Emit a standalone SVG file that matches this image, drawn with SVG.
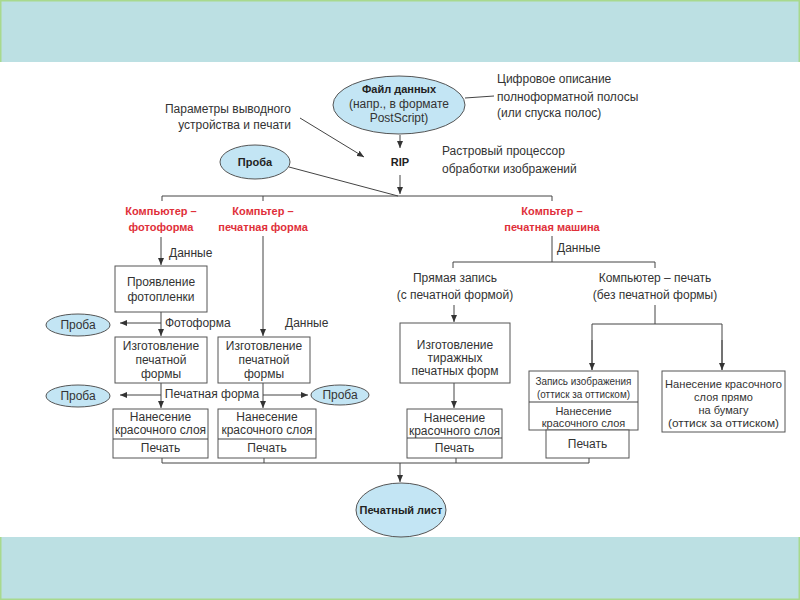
<svg xmlns="http://www.w3.org/2000/svg" width="800" height="600" viewBox="0 0 800 600">
<style>
.t{font-family:"Liberation Sans",Arial,sans-serif;font-size:12px;fill:#333}
.s{font-size:11px}
.c{text-anchor:middle}
.b{font-weight:bold;font-size:11px;fill:#222}
.r{font-weight:bold;font-size:11px;fill:#e0303a;text-anchor:middle}
.box{fill:#fff;stroke:#555;stroke-width:1}
.ell{fill:#c3e5f4;stroke:#555;stroke-width:1}
.ln{fill:none;stroke:#444;stroke-width:1}
.ar{fill:none;stroke:#444;stroke-width:1;marker-end:url(#ah)}
</style>
<defs>
<marker id="ah" markerUnits="userSpaceOnUse" markerWidth="8" markerHeight="6" refX="7" refY="3" orient="auto">
<path d="M0,0 L7,3 L0,6 z" fill="#333"/>
</marker>
</defs>
<rect x="0" y="0" width="800" height="600" fill="#fff"/>
<g id="bands">
<rect x="0" y="0" width="800" height="62" fill="#bce0e3"/>
<path d="M0.75,62 V0.75 H799.25 V62" fill="none" stroke="#a8d98e" stroke-width="1.5"/>
<rect x="0" y="537" width="800" height="63" fill="#bce0e3"/>
<path d="M0.75,537 V599.25 H799.25 V537" fill="none" stroke="#a8d98e" stroke-width="1.5"/>
</g>

<g id="connectors">
<line class="ln" x1="465" y1="98" x2="494" y2="96"/>
<line class="ar" x1="400" y1="135" x2="400" y2="148"/>
<line class="ar" x1="300" y1="118" x2="364" y2="157"/>
<line class="ar" x1="400" y1="175" x2="400" y2="194"/>
<line class="ln" x1="289" y1="167" x2="398" y2="196"/>
<path class="ln" d="M162,201 V196 H552 V201"/>
<line class="ln" x1="263" y1="196" x2="263" y2="201"/>
<line class="ar" x1="161" y1="237" x2="161" y2="265"/>
<line class="ar" x1="161" y1="312" x2="161" y2="336"/>
<line class="ar" x1="161" y1="323" x2="120" y2="323"/>
<line class="ar" x1="263" y1="236" x2="263" y2="336"/>
<line class="ar" x1="161" y1="383" x2="161" y2="408"/>
<line class="ar" x1="263" y1="383" x2="263" y2="408"/>
<line class="ar" x1="161" y1="395" x2="120" y2="395"/>
<line class="ar" x1="263" y1="395" x2="308" y2="395"/>
<line class="ln" x1="552" y1="236" x2="552" y2="262"/>
<path class="ln" d="M453,268 V262 H655 V268"/>
<line class="ar" x1="454" y1="305" x2="454" y2="322"/>
<line class="ar" x1="454" y1="383" x2="454" y2="408"/>
<line class="ln" x1="655" y1="305" x2="655" y2="324"/>
<path class="ln" d="M592,370 V324 H722 V370"/>
<line class="ar" x1="592" y1="340" x2="592" y2="370"/>
<line class="ar" x1="722" y1="340" x2="722" y2="370"/>
<path class="ln" d="M162,458 V463 H589 V458"/>
<line class="ln" x1="264" y1="458" x2="264" y2="463"/>
<line class="ln" x1="456" y1="458" x2="456" y2="463"/>
<line class="ar" x1="400" y1="463" x2="400" y2="482"/>
</g>

<g id="file">
<ellipse class="ell" cx="399" cy="105" rx="66" ry="29"/>
<text class="t b c" x="399" y="93">Файл данных</text>
<text class="t c" x="399" y="108">(напр., в формате</text>
<text class="t c" x="399" y="122">PostScript)</text>
</g>
<g id="file-note">
<text class="t" x="497" y="83">Цифровое описание</text>
<text class="t" x="497" y="101">полноформатной полосы</text>
<text class="t" x="497" y="117">(или спуска полос)</text>
</g>
<g id="params">
<text class="t" x="291" y="113" text-anchor="end">Параметры выводного</text>
<text class="t" x="291" y="129" text-anchor="end">устройства и печати</text>
</g>
<g id="rip">
<text class="t b c" x="400" y="166">RIP</text>
</g>
<g id="rip-note">
<text class="t" x="442" y="155">Растровый процессор</text>
<text class="t" x="442" y="173">обработки изображений</text>
</g>
<g id="proba-top">
<ellipse class="ell" cx="255" cy="162" rx="35" ry="17"/>
<text class="t b c" x="255" y="166">Проба</text>
</g>

<g id="lbl-ctf">
<text class="t r" x="161" y="215">Компьютер –</text>
<text class="t r" x="161" y="231">фотоформа</text>
</g>
<g id="lbl-ctp">
<text class="t r" x="263" y="215">Компьтер –</text>
<text class="t r" x="263" y="231">печатная форма</text>
</g>
<g id="lbl-ctpress">
<text class="t r" x="552" y="215">Компьтер –</text>
<text class="t r" x="552" y="231">печатная машина</text>
</g>

<g id="labels">
<text class="t" x="169" y="257">Данные</text>
<text class="t" x="165" y="327">Фотоформа</text>
<text class="t" x="285" y="327">Данные</text>
<text class="t c" x="212" y="398">Печатная форма</text>
<text class="t" x="557" y="252">Данные</text>
</g>

<g id="film">
<rect class="box" x="115" y="266" width="92" height="46"/>
<text class="t c" x="161" y="286">Проявление</text>
<text class="t c" x="161" y="301">фотопленки</text>
</g>
<g id="proba-l1">
<ellipse class="ell" cx="78" cy="325" rx="32" ry="11"/>
<text class="t c" x="78" y="329">Проба</text>
</g>
<g id="plate-l">
<rect class="box" x="115" y="337" width="92" height="46"/>
<text class="t c" x="161" y="350">Изготовление</text>
<text class="t c" x="161" y="364">печатной</text>
<text class="t c" x="161" y="378">формы</text>
</g>
<g id="plate-r">
<rect class="box" x="218" y="337" width="92" height="46"/>
<text class="t c" x="264" y="350">Изготовление</text>
<text class="t c" x="264" y="364">печатной</text>
<text class="t c" x="264" y="378">формы</text>
</g>
<g id="proba-l2">
<ellipse class="ell" cx="78" cy="396" rx="32" ry="11"/>
<text class="t c" x="78" y="400">Проба</text>
</g>
<g id="proba-r">
<ellipse class="ell" cx="340" cy="395" rx="29" ry="10"/>
<text class="t c" x="340" y="399">Проба</text>
</g>
<g id="ink-l">
<rect class="box" x="113" y="409" width="95" height="49"/>
<line class="ln" x1="113" y1="439" x2="208" y2="439"/>
<text class="t c" x="160.5" y="421">Нанесение</text>
<text class="t c" x="160.5" y="434">красочного слоя</text>
<text class="t c" x="160.5" y="452">Печать</text>
</g>
<g id="ink-r">
<rect class="box" x="218" y="409" width="98" height="49"/>
<line class="ln" x1="218" y1="439" x2="316" y2="439"/>
<text class="t c" x="267" y="421">Нанесение</text>
<text class="t c" x="267" y="434">красочного слоя</text>
<text class="t c" x="267" y="452">Печать</text>
</g>

<g id="direct">
<text class="t c" x="455" y="282">Прямая запись</text>
<text class="t c" x="455" y="299">(с печатной формой)</text>
</g>
<g id="ctpress">
<text class="t c" x="655" y="282">Компьютер – печать</text>
<text class="t c" x="655" y="299">(без печатной формы)</text>
</g>
<g id="run-plates">
<rect class="box" x="400" y="323" width="110" height="60"/>
<text class="t c" x="455" y="349">Изготовление</text>
<text class="t c" x="455" y="362">тиражных</text>
<text class="t c" x="455" y="375">печатных форм</text>
</g>
<g id="ink-m">
<rect class="box" x="407" y="409" width="95" height="49"/>
<line class="ln" x1="407" y1="438" x2="502" y2="438"/>
<text class="t c" x="454.5" y="422">Нанесение</text>
<text class="t c" x="454.5" y="435">красочного слоя</text>
<text class="t c" x="454.5" y="452">Печать</text>
</g>
<g id="imaging">
<rect class="box" x="529" y="371" width="109" height="59"/>
<line class="ln" x1="529" y1="402" x2="638" y2="402"/>
<text class="t s c" x="583.5" y="385" textLength="96" lengthAdjust="spacingAndGlyphs">Запись изображения</text>
<text class="t s c" x="583.5" y="398" textLength="93" lengthAdjust="spacingAndGlyphs">(оттиск за оттиском)</text>
<text class="t s c" x="583.5" y="415">Нанесение</text>
<text class="t s c" x="583.5" y="427">красочного слоя</text>
</g>
<g id="print-m">
<rect class="box" x="546" y="430" width="83" height="28"/>
<text class="t c" x="587.5" y="448">Печать</text>
</g>
<g id="direct-ink">
<rect class="box" x="662" y="371" width="123" height="61"/>
<text class="t s c" x="723.5" y="388" textLength="117" lengthAdjust="spacingAndGlyphs">Нанесение красочного</text>
<text class="t s c" x="723.5" y="401">слоя прямо</text>
<text class="t s c" x="723.5" y="414">на бумагу</text>
<text class="t s c" x="723.5" y="427" textLength="111" lengthAdjust="spacingAndGlyphs">(оттиск за оттиском)</text>
</g>

<g id="sheet">
<ellipse class="ell" cx="401" cy="510" rx="45" ry="27"/>
<text class="t b c" x="401" y="514">Печатный лист</text>
</g>
</svg>
